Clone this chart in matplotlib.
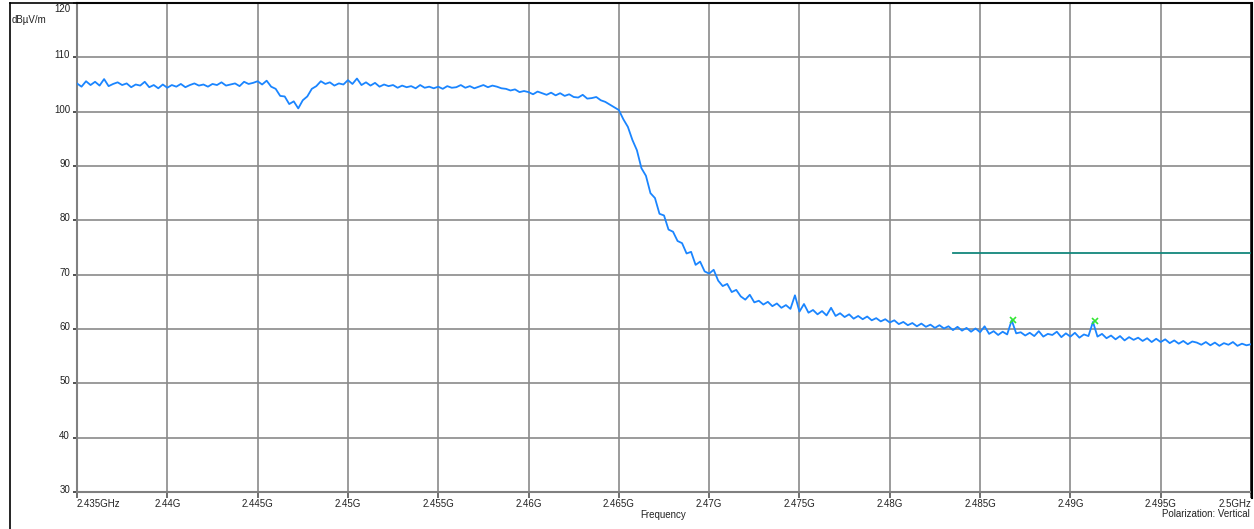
import matplotlib
matplotlib.use("Agg")
import matplotlib.pyplot as plt
from matplotlib.transforms import ScaledTranslation
from matplotlib.lines import Line2D

plt.rcParams['font.family'] = ['Liberation Sans', 'DejaVu Sans']

# ---- data ----
f_start = 2.435  # GHz
f_step = 0.00025  # GHz
level = [
    # 2.435 - 2.440
    105.2, 104.6, 105.6, 104.9, 105.5, 104.8, 106.0, 104.7, 105.1, 105.4,
    104.9, 105.2, 104.5, 105.0, 104.8, 105.5, 104.5, 104.9, 104.3, 105.0,
    # 2.440 - 2.445
    104.4, 104.9, 104.6, 105.1, 104.5, 104.9, 105.2, 104.8, 105.0, 104.6,
    105.1, 104.9, 105.4, 104.8, 105.0, 105.2, 104.7, 105.5, 105.1, 105.3,
    # 2.445 - 2.450
    105.6, 105.0, 105.7, 104.6, 104.2, 102.9, 102.8, 101.4, 101.9, 100.6,
    102.1, 102.8, 104.2, 104.7, 105.6, 105.1, 105.4, 104.8, 105.2, 105.0,
    # 2.450 - 2.455
    105.8, 105.1, 106.1, 104.9, 105.4, 104.8, 105.3, 104.6, 105.0, 104.7,
    104.9, 104.4, 104.8, 104.5, 104.7, 104.3, 104.9, 104.4, 104.6, 104.3,
    # 2.455 - 2.460
    104.6, 104.2, 104.7, 104.4, 104.5, 104.9, 104.4, 104.7, 104.3, 104.6,
    104.9, 104.5, 104.8, 104.6, 104.3, 104.2, 103.9, 104.1, 103.6, 103.8,
    # 2.460 - 2.465
    103.6, 103.2, 103.7, 103.4, 103.1, 103.5, 103.0, 103.4, 102.9, 103.2,
    102.7, 102.6, 103.1, 102.4, 102.5, 102.7, 102.1, 101.8, 101.3, 100.8,
    # 2.465 - 2.470
    100.3, 98.6, 97.2, 94.8, 92.9, 89.6, 88.2, 85.0, 84.1, 81.2,
    80.9, 78.3, 77.9, 76.2, 75.8, 73.9, 74.2, 71.8, 72.4, 70.6,
    # 2.470 - 2.475
    70.2, 70.9, 68.9, 67.9, 68.3, 66.8, 67.2, 66.0, 65.4, 66.3,
    64.9, 65.2, 64.5, 65.0, 64.2, 64.7, 63.9, 64.4, 63.7, 66.2,
    # 2.475 - 2.480
    63.2, 64.6, 63.0, 63.5, 62.7, 63.3, 62.5, 63.9, 62.4, 62.9,
    62.2, 62.7, 61.9, 62.4, 61.8, 62.3, 61.6, 62.0, 61.4, 61.8,
    # 2.480 - 2.485
    61.2, 61.6, 60.9, 61.3, 60.7, 61.1, 60.5, 61.0, 60.4, 60.8,
    60.2, 60.7, 60.1, 60.5, 59.8, 60.4, 59.7, 60.2, 59.5, 60.1,
    # 2.485 - 2.490
    59.4, 60.5, 59.1, 59.6, 58.9, 59.5, 59.0, 61.6, 59.2, 59.4,
    58.8, 59.3, 58.7, 59.6, 58.6, 59.1, 58.9, 59.5, 58.5, 59.2,
    # 2.490 - 2.495
    58.6, 59.3, 58.4, 59.0, 58.7, 61.3, 58.6, 59.1, 58.3, 58.8,
    58.1, 58.7, 57.9, 58.5, 58.0, 58.4, 57.8, 58.3, 57.6, 58.2,
    # 2.495 - 2.500
    57.6, 58.1, 57.4, 57.9, 57.3, 57.8, 57.2, 57.7, 57.5, 57.1,
    57.6, 57.0, 57.5, 56.9, 57.4, 57.1, 57.6, 56.9, 57.3, 57.0, 57.2,
]
freq = [f_start + f_step * i for i in range(len(level))]

limit_freq = [2.4835, 2.5]
limit_level = [74.0, 74.0]

marker_freq = [2.48683, 2.49137]
marker_level = [61.7, 61.5]

x_ticks = [2.435, 2.44, 2.445, 2.45, 2.455, 2.46, 2.465, 2.47, 2.475, 2.48,
           2.485, 2.49, 2.495, 2.5]
x_labels = ['2.435GHz', '2.44G', '2.445G', '2.45G', '2.455G', '2.46G', '2.465G',
            '2.47G', '2.475G', '2.48G', '2.485G', '2.49G', '2.495G', '2.5GHz']
y_ticks = [30, 40, 50, 60, 70, 80, 90, 100, 110, 120]

# ---- figure ----
W, H = 1254, 529
fig = plt.figure(figsize=(W / 100, H / 100), dpi=100)
ax = fig.add_axes([77 / W, 1 - 492 / H, (1251 - 77) / W, (492 - 3) / H])

ax.plot(freq, level, color='#1a85ff', lw=1.3, zorder=3)
ax.plot(limit_freq, limit_level, color='#12877c', lw=1.3, zorder=3)
ax.plot(marker_freq, marker_level, ls='none', marker='x', ms=5, mew=1.2,
        color='#33e633', zorder=4)

ax.set_xlim(2.435, 2.5)
ax.set_ylim(30, 120)
ax.set_xticks(x_ticks)
ax.set_xticklabels(x_labels)
ax.set_yticks(y_ticks)
ax.grid(True, color='#8a8a8a', lw=1.2)
ax.set_axisbelow(True)

ax.tick_params(axis='x', direction='out', length=4, width=1.2, color='#555555',
               labelsize=7, labelcolor='#222222', pad=1)
ax.tick_params(axis='y', direction='out', length=3, width=1.2, color='#333333',
               labelsize=7, labelcolor='#222222', pad=2)

labs = ax.get_xticklabels()
labs[0].set_horizontalalignment('left')
labs[-1].set_horizontalalignment('right')
ylabs = ax.get_yticklabels()
for lab in ylabs[:-1]:
    lab.set_transform(lab.get_transform() + ScaledTranslation(0, 3 / 100, fig.dpi_scale_trans))
ylabs[-1].set_transform(ylabs[-1].get_transform() + ScaledTranslation(0, -5 / 100, fig.dpi_scale_trans))

for side in ['left', 'bottom']:
    ax.spines[side].set_color('#808080')
    ax.spines[side].set_linewidth(1.5)
ax.spines['top'].set_color('#222222')
ax.spines['top'].set_linewidth(1.5)
ax.spines['right'].set_color('#222222')
ax.spines['right'].set_linewidth(1.8)

# outer frame
fig.add_artist(Line2D([10 / W, 10 / W], [0, 1 - 3 / H], color='black', lw=1.2,
                      transform=fig.transFigure))
fig.add_artist(Line2D([10 / W, 1252 / W], [1 - 3 / H, 1 - 3 / H], color='black', lw=1.2,
                      transform=fig.transFigure))
fig.add_artist(Line2D([1252 / W, 1252 / W], [1 - 3 / H, 1 - 498 / H], color='black', lw=1.5,
                      transform=fig.transFigure))

fig.text(12 / W, 1 - 20 / H, 'dBµV/m', fontsize=7, color='#222222', ha='left', va='center')
fig.text(663 / W, 1 - 515 / H, 'Frequency', fontsize=7, color='#222222', ha='center', va='center')
fig.text(1250 / W, 1 - 514 / H, 'Polarization: Vertical', fontsize=7, color='#222222',
         ha='right', va='center')

fig.savefig('out.png', dpi=100)
